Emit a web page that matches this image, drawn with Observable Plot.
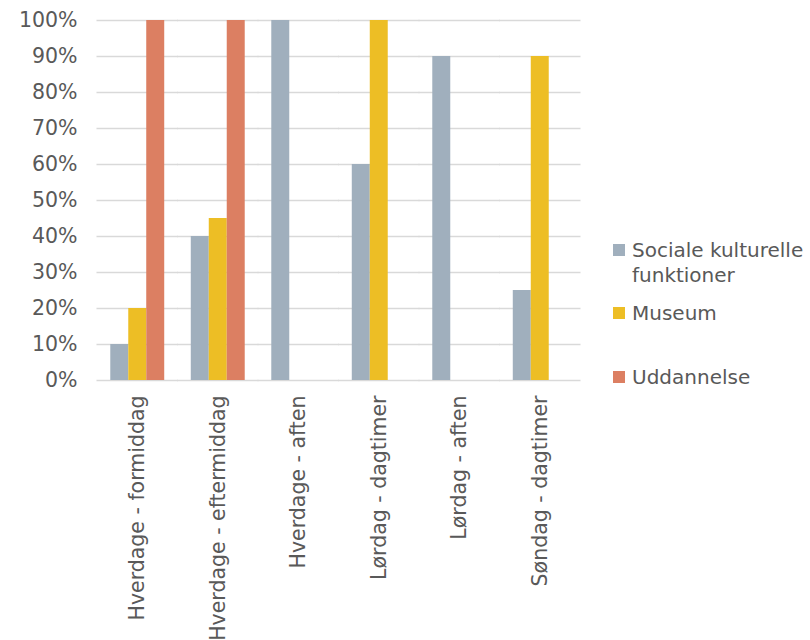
<!DOCTYPE html>
<html>
<head>
<meta charset="utf-8">
<script src="https://cdn.jsdelivr.net/npm/d3@7"></script>
<script src="https://cdn.jsdelivr.net/npm/@observablehq/plot@0.6"></script>
<style>
  html, body { margin: 0; padding: 0; background: #fff; }
  #wrap { position: relative; width: 810px; height: 640px; font-family: "DejaVu Sans", Verdana, sans-serif; color: #595959; }
  #chart { position: absolute; left: 0; top: 0; }
  .lg-item { position: absolute; left: 613px; display: flex; align-items: flex-start; }
  .lg-sw { width: 12px; height: 12px; flex: none; }
  .lg-tx { position: absolute; left: 19px; font-size: 20px; line-height: 25px; white-space: nowrap; }
</style>
</head>
<body>
<div id="wrap"><div id="chart"></div></div>
<script>
const categories = ["Hverdage - formiddag", "Hverdage - eftermiddag", "Hverdage - aften", "Lørdag - dagtimer", "Lørdag - aften", "Søndag - dagtimer"];
const seriesNames = ["Sociale kulturelle funktioner", "Museum", "Uddannelse"];
const legendLabels = ["Sociale kulturelle<br>funktioner", "Museum", "Uddannelse"];
const colors = ["#A0AFBD", "#EDBE25", "#DC7F62"];
const socialeValues = [10, 40, 100, 60, 90, 25];
const museumValues = [20, 45, 0, 100, 0, 90];
const uddannelseValues = [100, 100, 0, 0, 0, 0];
const yTicks = [0, 10, 20, 30, 40, 50, 60, 70, 80, 90, 100];

const seriesValues = [socialeValues, museumValues, uddannelseValues];
const data = [];
categories.forEach((c, i) => {
  seriesNames.forEach((s, j) => data.push({category: c, series: s, value: seriesValues[j][i]}));
});

const W = 600, ML = 97, MR = 20;
const padIn = 0.33, padOut = 0.165;
const step = (W - ML - MR) / (categories.length - padIn + 2 * padOut);
const gapHalf = step * padIn / 2 + 0.5;
const outer = step * padOut;

const chart = Plot.plot({
  width: W,
  height: 640,
  marginTop: 20,
  marginBottom: 260,
  marginLeft: ML,
  marginRight: MR,
  style: {fontFamily: "'DejaVu Sans', Verdana, sans-serif", fontSize: "20.5px", color: "#595959", background: "transparent"},
  y: {domain: [0, 100]},
  fx: {domain: categories, paddingInner: padIn, paddingOuter: padOut, round: false, label: null},
  x: {domain: seriesNames, axis: null, padding: 0, round: false},
  color: {domain: seriesNames, range: colors},
  marks: [
    Plot.ruleY(yTicks, {stroke: "#D9D9D9", strokeWidth: 1.5, insetLeft: -gapHalf, insetRight: -gapHalf}),
    Plot.barY(data, {fx: "category", x: "series", y: "value", fill: "series"}),
    Plot.axisY(yTicks, {tickSize: 0, tickPadding: 20 + outer, tickFormat: d => d + "%", label: null, fontSize: 20.5}),
    Plot.axisFx({anchor: "bottom", tickRotate: -90, tickSize: 0, tickPadding: 15, label: null, fontSize: 20.5})
  ]
});
document.getElementById("chart").appendChild(chart);

const swTops = [244, 307, 371];
const wrap = document.getElementById("wrap");
seriesNames.forEach((s, j) => {
  const item = document.createElement("div");
  item.className = "lg-item";
  item.style.top = swTops[j] + "px";
  item.innerHTML = `<div class="lg-sw" style="background:${colors[j]}"></div><div class="lg-tx" style="top:-6.5px">${legendLabels[j]}</div>`;
  wrap.appendChild(item);
});
</script>
</body>
</html>
